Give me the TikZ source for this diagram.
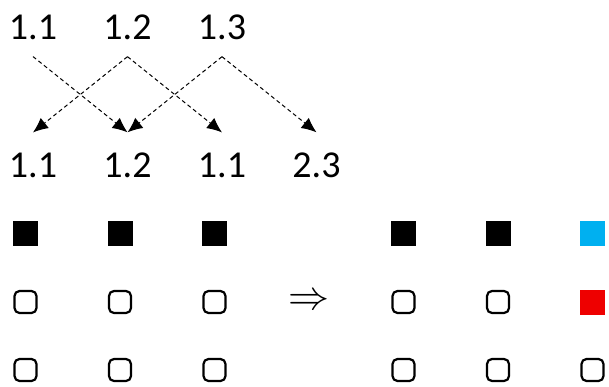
\documentclass[tikz,border=0pt]{standalone}
\usepackage{fontspec}
\setmainfont{Carlito}
\usetikzlibrary{arrows.meta, positioning}
\usepackage{xcolor}
\definecolor{cellblue}{HTML}{00B0F0}
\definecolor{cellred}{HTML}{EE0000}

\begin{document}
\begin{tikzpicture}[x=1pt, y=-1pt, node distance=94.5pt,
		num/.style={inner sep=0pt, font=\fontsize{38}{40}\selectfont},
		full/.style={fill=black, minimum size=25pt, inner sep=0pt},
		empty/.style={draw=black, line width=2.2pt, rounded corners=5pt, minimum size=22pt, inner sep=0pt},
		move/.style={dashed, dash pattern=on 4pt off 3pt, line width=1pt, -{Latex[length=15pt, width=13pt]}}]
		
		\useasboundingbox (0,0) rectangle (609,387);
		
		%a1
		\node[num] at (33,27) (a1) {1.1};
		%a2
		\node[num, right of=a1] (a2) {1.2};
		%a3
		\node[num, right of=a2] (a3) {1.3};
		
		%b1
		\node[num] at (33,165) (b1) {1.1};
		%b2
		\node[num, right of=b1] (b2) {1.2};
		%b3
		\node[num, right of=b2] (b3) {1.1};
		%b4
		\node[num, right of=b3] (b4) {2.3};
		
		%row 1
		\node[full] at (25.5,233.5) (s11) {};
		\node[full, right of=s11] (s12) {};
		\node[full, right of=s12] (s13) {};
		\node[full, right of=s13, xshift=94.5pt] (s14) {};
		\node[full, right of=s14] (s15) {};
		\node[full, fill=cellblue, right of=s15] (s16) {};
		
		%row 2
		\node[empty] at (25.5,302) (s21) {};
		\node[empty, right of=s21] (s22) {};
		\node[empty, right of=s22] (s23) {};
		\node[inner sep=0pt, font=\fontsize{30}{30}\selectfont, right of=s23] (imp) {\scalebox{1.65}{$\Rightarrow$}};
		\node[empty, right of=imp] (s24) {};
		\node[empty, right of=s24] (s25) {};
		\node[full, fill=cellred, right of=s25] (s26) {};
		
		%row 3
		\node[empty] at (25.5,370) (s31) {};
		\node[empty, right of=s31] (s32) {};
		\node[empty, right of=s32] (s33) {};
		\node[empty, right of=s33, xshift=94.5pt] (s34) {};
		\node[empty, right of=s34] (s35) {};
		\node[empty, right of=s35] (s36) {};
		
		% a1
		\draw[move] ([yshift=-17pt]a1.south) -- ([yshift=20pt]b2.north);
		
		% a2
		\draw[move] ([yshift=-17pt]a2.south) -- ([yshift=20pt]b1.north);
		\draw[move] ([yshift=-17pt]a2.south) -- ([yshift=20pt]b3.north);
		
		% a3
		\draw[move] ([yshift=-17pt]a3.south) -- ([yshift=20pt]b2.north);
		\draw[move] ([yshift=-17pt]a3.south) -- ([yshift=20pt]b4.north);
		
\end{tikzpicture}
\end{document}
